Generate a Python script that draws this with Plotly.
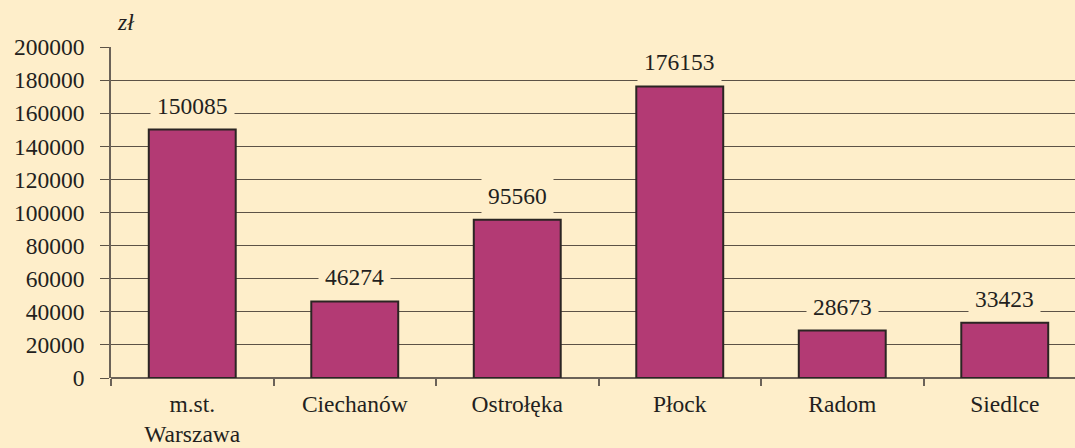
import plotly.graph_objects as go

# Values per district (zł)
categories = ["m.st.<br>Warszawa", "Ciechanów", "Ostrołęka", "Płock", "Radom", "Siedlce"]
values = [150085, 46274, 95560, 176153, 28673, 33423]
y_ticks = [0, 20000, 40000, 60000, 80000, 100000, 120000, 140000, 160000, 180000, 200000]

BG = "#FEEECA"
BAR = "#B33A74"
FONT = "Liberation Serif"
FS = 23.5
TXT = "#231f20"

W, H = 1075, 448
L, R, T, B = 111, 0, 47, 70
CAT_W = 162.5  # pixel width of one category slot

x_pos = [i + 0.5 for i in range(len(categories))]
x_max = (W - L - R) / CAT_W

fig = go.Figure(
    go.Bar(
        x=x_pos,
        y=values,
        width=0.535,
        marker=dict(color=BAR, line=dict(color="#2b2523", width=2)),
        hoverinfo="skip",
    )
)

# value labels with a background box that interrupts the gridlines
for xp, v in zip(x_pos, values):
    fig.add_annotation(
        x=xp, y=v, xref="x", yref="y",
        text=str(v), showarrow=False,
        yanchor="bottom", yshift=4,
        bgcolor=BG, borderpad=6,
        font=dict(family=FONT, size=FS, color=TXT),
    )

plot_w = W - L - R
plot_h = H - T - B
fig.add_annotation(
    x=(126 - L) / plot_w, y=(H - B - 22) / plot_h,
    xref="paper", yref="paper", text="<i>zł</i>",
    xanchor="center", yanchor="middle",
    showarrow=False, font=dict(family=FONT, size=FS, color=TXT),
)

fig.update_layout(
    width=W, height=H,
    margin=dict(l=L, r=R, t=T, b=B, autoexpand=False),
    paper_bgcolor=BG, plot_bgcolor=BG,
    showlegend=False,
    font=dict(family=FONT, size=FS, color=TXT),
    xaxis=dict(
        range=[0, x_max],
        automargin=False,
        tickvals=x_pos, ticktext=categories,
        ticks="", showgrid=False, zeroline=False,
        showline=False,
        ticklabelstandoff=9,
        minor=dict(tickvals=list(range(7)), ticks="outside", ticklen=7,
                   tickcolor="#6b6258", tickwidth=1.5, showgrid=False),
        tickfont=dict(family=FONT, size=FS, color=TXT),
    ),
    yaxis=dict(
        range=[0, 200000],
        automargin=False,
        tickvals=y_ticks, ticktext=[str(t) for t in y_ticks],
        ticks="outside", ticklen=9, tickcolor="#5c5246", tickwidth=1,
        showgrid=True, gridcolor="#5c5246", gridwidth=1,
        showline=True, linecolor="#6b6258", linewidth=1.5,
        zeroline=True, zerolinecolor="#6b6258", zerolinewidth=1.5,
        tickfont=dict(family=FONT, size=FS, color=TXT),
        ticklabelstandoff=11,
    ),
)

fig.write_html("out.html")
